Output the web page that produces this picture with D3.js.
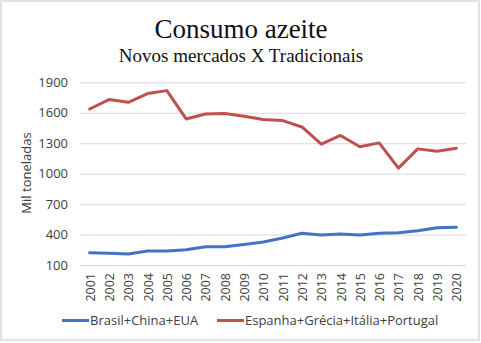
<!DOCTYPE html>
<html><head><meta charset="utf-8">
<script src="https://cdn.jsdelivr.net/npm/d3@7"></script>
<style>body{margin:0;background:#fff;}svg{display:block;}</style>
</head><body>
<svg id="c" width="481" height="343"></svg>
<script>
const years = ["2001","2002","2003","2004","2005","2006","2007","2008","2009","2010","2011","2012","2013","2014","2015","2016","2017","2018","2019","2020"];
const novos = [221,215,208,238,238,250,280,280,303,326,366,412,395,405,395,412,418,437,467,471];
const tradicionais = [1637,1730,1703,1789,1818,1539,1588,1592,1566,1533,1523,1460,1290,1376,1265,1303,1054,1244,1221,1251];
const yTicks = [100,400,700,1000,1300,1600,1900];
const seriesNames = ["Brasil+China+EUA","Espanha+Grécia+Itália+Portugal"];
const colors = ["#4472C4","#C0504D"];

const svg = d3.select("#c");
svg.append("rect").attr("x",1).attr("y",1).attr("width",478).attr("height",339)
  .attr("fill","#fff").attr("stroke","#d9d9d9").attr("stroke-width",1.5);

const x = d3.scaleBand().domain(years).range([80,466]);
const y = d3.scaleLinear().domain([100,1900]).range([265,82.3]);

svg.append("text").attr("x",241).attr("y",38).attr("text-anchor","middle")
  .attr("font-family","Liberation Serif, DejaVu Serif, serif").attr("font-size",27).attr("fill","#111")
  .text("Consumo azeite");
svg.append("text").attr("x",241).attr("y",62).attr("text-anchor","middle")
  .attr("font-family","Liberation Serif, DejaVu Serif, serif").attr("font-size",19).attr("fill","#111")
  .text("Novos mercados X Tradicionais");

const yAxis = svg.append("g").attr("transform","translate(80,0)")
  .call(d3.axisLeft(y).tickValues(yTicks).tickSize(-386).tickPadding(12).tickFormat(d3.format("d")));
yAxis.select(".domain").remove();
yAxis.selectAll("line").attr("stroke","#d9d9d9").attr("stroke-width",1);
yAxis.selectAll("text").attr("font-family","Open Sans, sans-serif").attr("font-size",13).attr("fill","#404040");

const xAxis = svg.append("g").attr("transform","translate(0,265)")
  .call(d3.axisBottom(x).tickSize(0).tickPadding(0));
xAxis.select(".domain").remove();
xAxis.selectAll("text").attr("font-family","Open Sans, sans-serif").attr("font-size",12.5).attr("fill","#404040")
  .attr("text-anchor","end").attr("dy",null)
  .attr("transform","translate(5,8) rotate(-90)");

svg.append("text").attr("transform","translate(31,173) rotate(-90)").attr("text-anchor","middle")
  .attr("font-family","Open Sans, sans-serif").attr("font-size",13).attr("fill","#404040")
  .text("Mil toneladas");

const line = d3.line().x((d,i)=>x(years[i])+x.bandwidth()/2).y(d=>y(d));
[novos,tradicionais].forEach((s,i)=>{
  svg.append("path").datum(s).attr("d",line).attr("fill","none")
    .attr("stroke",colors[i]).attr("stroke-width",3).attr("stroke-linejoin","round").attr("stroke-linecap","round");
});

const legX = [62,217];
seriesNames.forEach((n,i)=>{
  svg.append("line").attr("x1",legX[i]).attr("x2",legX[i]+27).attr("y1",320.5).attr("y2",320.5)
    .attr("stroke",colors[i]).attr("stroke-width",3);
  svg.append("text").attr("x",legX[i]+28).attr("y",325).attr("font-family","Open Sans, sans-serif")
    .attr("font-size",13).attr("fill","#404040").text(n);
});
</script>
</body></html>
